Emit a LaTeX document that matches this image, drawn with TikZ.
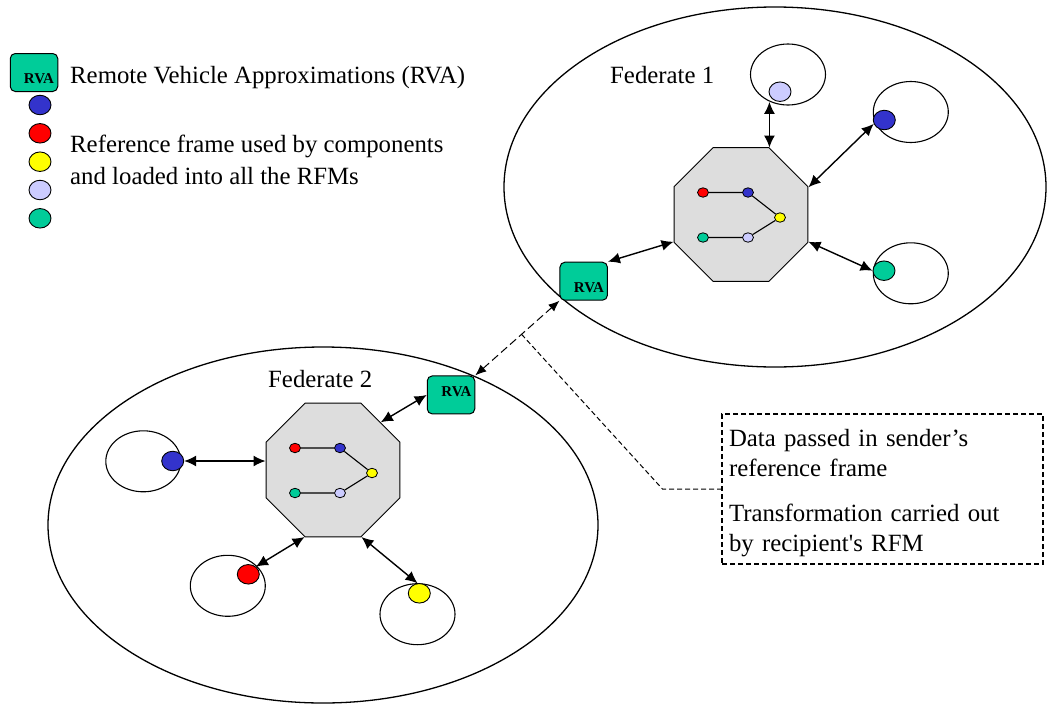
\documentclass[tikz,border=0pt]{standalone}
\usepackage{fontspec}
\setmainfont{Liberation Serif}
\usetikzlibrary{shapes.geometric,arrows.meta}

\definecolor{rvagreen}{HTML}{00CC99}
\definecolor{compblue}{HTML}{3333CC}
\definecolor{compred}{HTML}{FF0000}
\definecolor{compyellow}{HTML}{FFFF00}
\definecolor{complav}{HTML}{CCCCFF}
\definecolor{rfmgray}{HTML}{DDDDDD}

\tikzset{
  federate/.style={draw, ellipse, inner sep=0pt, line width=1.3pt},
  ring/.style={draw, ellipse, inner sep=0pt, minimum width=75, minimum height=61, line width=1.1pt},
  comp/.style={draw, ellipse, inner sep=0pt, minimum width=22, minimum height=19.5, line width=0.9pt},
  mini/.style={draw, ellipse, inner sep=0pt, minimum width=11, minimum height=9.5, line width=0.8pt},
  rfm/.style={draw, regular polygon, regular polygon sides=8, inner sep=0pt, minimum size=145, fill=rfmgray, line width=1pt},
  rvabox/.style={draw, fill=rvagreen, rounded corners=5pt, minimum width=47.5, minimum height=38, line width=1pt},
  rvatext/.style={inner sep=0pt, font=\fontsize{15}{16}\selectfont\bfseries},
  bigtext/.style={inner sep=0pt, anchor=base west, align=left, font=\fontsize{24.8}{32}\selectfont},
  notebox/.style={draw, dash pattern=on 5pt off 3pt, line width=1.1pt, text width=307pt, inner xsep=7pt, inner ysep=0pt,
    align=left, font=\fontsize{24.8}{29.5}\selectfont, text height=32.7pt, text depth=117.3pt},
  link/.style={<->, >={Latex[length=12pt,width=11pt]}, line width=1.4pt},
  datalink/.style={<->, >={Latex[length=11pt,width=9pt]}, dash pattern=on 8pt off 4pt, line width=1pt},
  leader/.style={dash pattern=on 5pt off 3pt, line width=1pt}
}

\begin{document}
\begin{tikzpicture}[x=1pt, y=-1pt]
  \useasboundingbox (0,0) rectangle (1047,707);

  % federates
  \node[federate, minimum width=542, minimum height=360] (fed1) at (775,187) {};
  \node[federate, minimum width=550, minimum height=356] (fed2) at (323,525) {};
  \node[bigtext] (fed1name) at (610,83.3) {Federate 1};
  \node[bigtext] (fed2name) at (268,387.7) {Federate 2};

  % legend
  \node[rvabox] (legrva) at (34,72.5) {};
  \node[rvatext] at ([shift={(5,6.5)}]legrva.center) {RVA};
  \node[comp, fill=compblue] (legblue) at (40,105) {};
  \node[comp, fill=compred] (legred) at (40,133.3) {};
  \node[comp, fill=compyellow] (legyellow) at (40,161.7) {};
  \node[comp, fill=complav] (leglav) at (40,190) {};
  \node[comp, fill=rvagreen] (leggreen) at (40,218.3) {};
  \node[bigtext] (legrvatext) at (70,83.3) {Remote Vehicle Approximations (RVA)};
  \node[bigtext] (legframetext) at (70,184.3) {Reference frame used by components\\and loaded into all the RFMs};

  % components of federate 1
  \node[ring] (r1a) at (788,74.5) {};
  \node[ring] (r1b) at (910.8,112) {};
  \node[ring] (r1c) at (910.8,273.3) {};
  \node[comp, fill=complav] (c1a) at (780,91.7) {};
  \node[comp, fill=compblue] (c1b) at (884.3,120) {};
  \node[comp, fill=rvagreen] (c1c) at (884,270.7) {};

  % components of federate 2
  \node[ring] (r2a) at (143.3,461.3) {};
  \node[ring] (r2b) at (227.8,585.8) {};
  \node[ring] (r2c) at (417.5,614.2) {};
  \node[comp, fill=compblue] (c2a) at (172.7,461) {};
  \node[comp, fill=compred] (c2b) at (248.3,574.3) {};
  \node[comp, fill=compyellow] (c2c) at (419.3,593.3) {};

  % reference frame managers
  \node[rfm] (o1) at (741,214.5) {};
  \node[rfm] (o2) at (333,470) {};
  \foreach \o in {o1,o2} {
    \node[mini, fill=compred] (\o red) at ([shift={(-38,-22)}]\o.center) {};
    \node[mini, fill=compblue] (\o blue) at ([shift={(7,-22)}]\o.center) {};
    \node[mini, fill=compyellow] (\o yellow) at ([shift={(39,3)}]\o.center) {};
    \node[mini, fill=complav] (\o lav) at ([shift={(7,23)}]\o.center) {};
    \node[mini, fill=rvagreen] (\o green) at ([shift={(-38,23)}]\o.center) {};
    \draw[line width=1.1pt] (\o red) -- (\o blue) -- (\o yellow) -- (\o lav) -- (\o green);
  }

  % remote vehicle approximations
  \node[rvabox] (rva1) at (583.7,281.2) {};
  \node[rvatext] at ([shift={(5.3,6.8)}]rva1.center) {RVA};
  \node[rvabox] (rva2) at (451,394.9) {};
  \node[rvatext] at ([shift={(5.5,-3.2)}]rva2.center) {RVA};

  % links
  \draw[link] (o1.67.5) -- (o1.67.5 |- c1a.south);
  \draw[link] (o1.22.5) -- (c1b.200);
  \draw[link] (o1.-22.5) -- (c1c.west);
  \draw[link] (rva1.north east) -- (o1.202.5);
  \draw[link] (c2a.east) -- (c2a.east -| o2.west);
  \draw[link] (o2.247.5) -- (c2b.45);
  \draw[link] (o2.-67.5) -- (c2c.100);
  \draw[link] (rva2.west) -- (o2.45);

  % data exchange between federates
  \draw[datalink] (rva2.north east) -- coordinate[pos=0.55] (tap) (rva1.south west);
  \node[notebox] (note) at (882.5,489) {Data passed in sender’s\\reference frame\\[16pt]Transformation carried out\\by recipient{\addfontfeature{Ligatures=TeXOff}'}s RFM};
  \draw[leader] (tap) -- ([xshift=-59]note.west) -- (note.west);
\end{tikzpicture}
\end{document}
